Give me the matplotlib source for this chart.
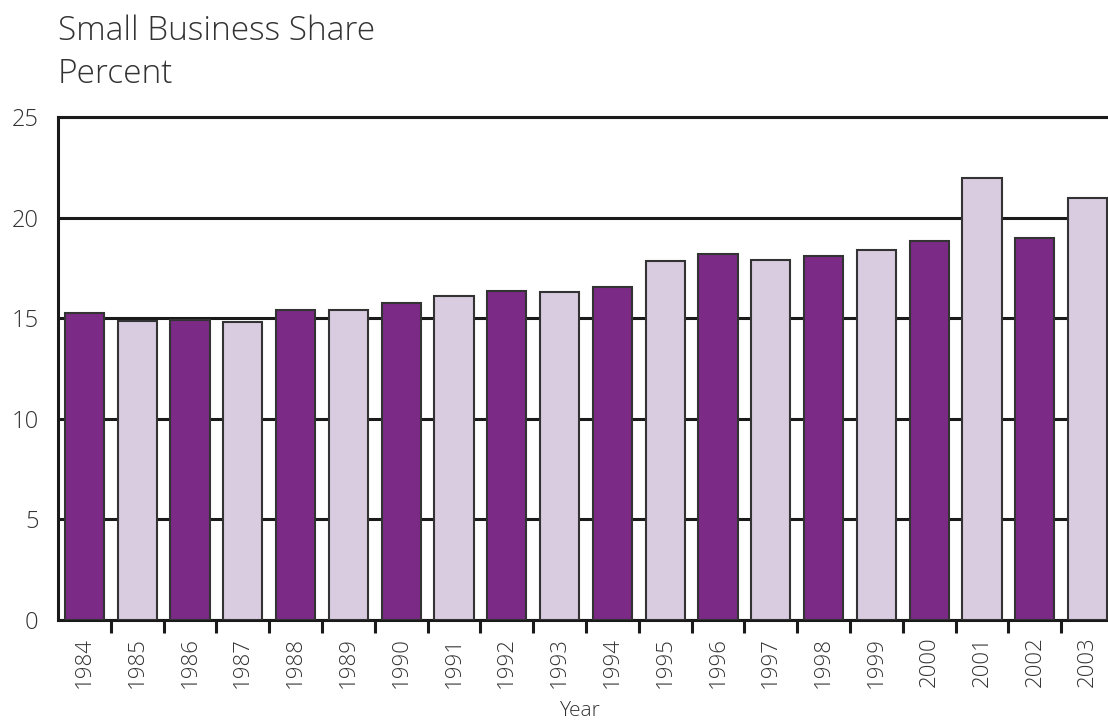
import matplotlib.pyplot as plt
import numpy as np

plt.rcParams['font.family'] = ['Open Sans', 'DejaVu Sans']
plt.rcParams['font.weight'] = 'light'

# Data
years = [str(y) for y in range(1984, 2004)]
share = [15.25, 14.85, 14.9, 14.8, 15.4, 15.4, 15.75, 16.1, 16.35, 16.3,
         16.55, 17.85, 18.2, 17.9, 18.1, 18.4, 18.85, 21.95, 19.0, 20.95]
yticks = [0, 5, 10, 15, 20, 25]

dark = '#7b2a85'
light = '#d9cbe0'
colors = [dark if i % 2 == 0 else light for i in range(len(years))]

fig = plt.figure(figsize=(11.08, 7.22), dpi=100)
ax = fig.add_axes([58 / 1108, 1 - 620 / 722, 1056 / 1108, 503 / 722])

x = np.arange(len(years))
ax.bar(x, share, width=0.74, color=colors, edgecolor='#333333', linewidth=1.5, zorder=3)

ax.set_xlim(-0.5, len(years) - 0.5)
ax.set_ylim(0, 25)
ax.set_yticks(yticks)
ax.yaxis.grid(True, color='#1a1a1a', linewidth=2.2, zorder=0)
ax.tick_params(axis='y', length=0, pad=14, labelsize=17, labelcolor='#333333')

# ticks sit between bars, labels centred under bars
ax.set_xticks(x[:-1] + 0.5)
ax.set_xticklabels([])
ax.set_xticks(x, minor=True)
ax.set_xticklabels(years, minor=True, rotation=90, fontsize=16, color='#333333')
ax.tick_params(axis='x', which='major', length=9, width=2.2, color='#1a1a1a', direction='out')
ax.tick_params(axis='x', which='minor', length=0, pad=12)

for s in ['left', 'bottom', 'top']:
    ax.spines[s].set_linewidth(2.2)
    ax.spines[s].set_color('#1a1a1a')
ax.spines['right'].set_visible(False)

fig.text(580 / 1108, 1 - 711 / 722, 'Year', fontsize=15, color='#333333', ha='center', va='center')

fig.text(58 / 1108, 1 - 31 / 722, 'Small Business Share', fontsize=24, color='#333333', va='center')
fig.text(58 / 1108, 1 - 74 / 722, 'Percent', fontsize=24, color='#333333', va='center')

fig.savefig('out.png', dpi=100)
